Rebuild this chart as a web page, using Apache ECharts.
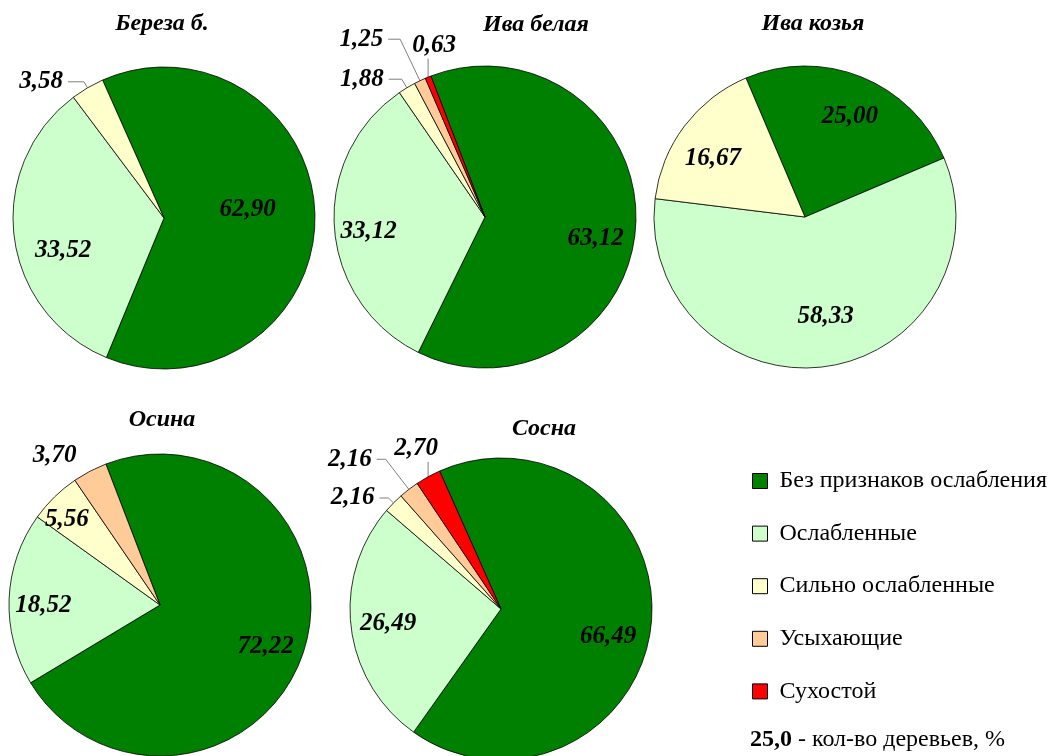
<!DOCTYPE html>
<html>
<head>
<meta charset="utf-8">
<script src="https://cdn.jsdelivr.net/npm/echarts@6/dist/echarts.min.js"></script>
<style>
  html, body { margin: 0; padding: 0; background: #fff; }
  #chart { width: 1049px; height: 756px; }
</style>
</head>
<body>
<div id="chart"></div>
<script>
// категории состояния деревьев
const categories = ['Без признаков ослабления', 'Ослабленные', 'Сильно ослабленные', 'Усыхающие', 'Сухостой']
const species = ['Береза б.', 'Ива белая', 'Ива козья', 'Осина', 'Сосна']

// доля деревьев, % (0 = категории нет)
const berezaValues = [62.90, 33.52, 3.58, 0, 0]
const ivaBelayaValues = [63.12, 33.12, 1.88, 1.25, 0.63]
const ivaKozyaValues = [25.00, 58.33, 16.67, 0, 0]
const osinaValues = [72.22, 18.52, 5.56, 3.70, 0]
const sosnaValues = [66.49, 26.49, 2.16, 2.16, 2.70]

const allValues = [berezaValues, ivaBelayaValues, ivaKozyaValues, osinaValues, sosnaValues]

// оформление
const colors = ['#008000', '#CCFFCC', '#FFFFCC', '#FFCC99', '#FF0000']
const SERIF = "'Liberation Serif', 'Times New Roman', serif"
const R = 151
const centers = [[164, 218], [485, 217], [805, 217], [160, 605], [501, 609]]
const startAngles = [114, 111, 113, 111, 114]
const titlePos = [[162, 24], [536, 25], [813, 24], [162, 420], [544, 429]]

// выноски мелких секторов: [длина 1-го отрезка, длина 2-го, показывать линию]
const leaders = [
  { 2: [7, 16, true] },
  { 2: [10, 13, true], 3: [46, 12, true], 4: [20, 0, true] },
  {},
  { 3: [18, 0, false] },
  { 2: [7, 9, true], 3: [38, 9, true], 4: [17, 0, true] }
]
// подгонка положения внутренних подписей (как расставил Excel)
const nudges = [
  { 0: [-28, -7], 1: [10, 18] },
  { 0: [-1, 16], 1: [-5, 6] },
  { 0: [3, 3], 1: [5, -11], 2: [-3, 9] },
  { 0: [0, 5], 1: [-5, 5], 2: [-15, -6] },
  { 0: [-4, 16], 1: [-2, 1] }
]
// сдвиг подписи сухостоя вдоль выноски
const redShift = [0, 6, 0, 0, -12]

const fmt = v => v.toFixed(2).replace('.', ',')

const labelFont = {
  fontFamily: SERIF, fontSize: 25, fontWeight: 'bold', fontStyle: 'italic', color: '#000'
}

const series = []
const labelSeries = []

allValues.forEach((values, k) => {
  const items = values
    .map((v, i) => ({ name: categories[i], value: v, idx: i }))
    .filter(d => d.value > 0)

  // сами секторы
  series.push({
    type: 'pie',
    center: centers[k],
    radius: R,
    startAngle: startAngles[k],
    clockwise: true,
    silent: true,
    animation: false,
    label: { show: false },
    labelLine: { show: false },
    itemStyle: { borderColor: '#000', borderWidth: 0.8 },
    data: items.map(d => ({ name: d.name, value: d.value, itemStyle: { color: colors[d.idx] } }))
  })

  // прозрачное кольцо только для подписей
  labelSeries.push({
    type: 'pie',
    center: centers[k],
    radius: [R * 0.44, R],
    startAngle: startAngles[k],
    clockwise: true,
    silent: true,
    animation: false,
    avoidLabelOverlap: false,
    itemStyle: { color: 'rgba(0,0,0,0)', borderWidth: 0 },
    label: Object.assign({ show: true, position: 'inside', formatter: p => fmt(p.value) }, labelFont),
    labelLine: { show: false },
    data: items.map(d => {
      const item = { name: d.name + ' ', value: d.value }
      const ld = leaders[k][d.idx]
      if (ld) {
        item.label = { position: 'outside' }
        item.labelLine = {
          show: ld[2], length: ld[0], length2: ld[1],
          lineStyle: { color: '#808080', width: 1 }
        }
      } else if (nudges[k][d.idx]) {
        item.label = { offset: nudges[k][d.idx] }
      }
      return item
    }),
    // подпись сухостоя — над сектором, с вертикальной выноской
    labelLayout: params => {
      const d = items[params.dataIndex]
      const p = params.labelLinePoints
      if (!d || d.idx !== 4 || !p) return {}
      const x = p[0][0]
      const yTop = p[1][1]
      return {
        x: x + redShift[k],
        y: yTop - 1,
        align: 'center',
        verticalAlign: 'bottom',
        labelLinePoints: [p[0], [x, yTop], [x, yTop]]
      }
    }
  })
})

const chart = echarts.init(document.getElementById('chart'), null, { renderer: 'canvas' })

chart.setOption({
  backgroundColor: '#fff',
  animation: false,
  legend: {
    orient: 'vertical',
    left: 747,
    top: 464,
    icon: 'rect',
    itemWidth: 15,
    itemHeight: 15,
    itemGap: 28.6,
    selectedMode: false,
    data: categories,
    itemStyle: { borderColor: '#000', borderWidth: 1 },
    textStyle: { fontFamily: SERIF, fontSize: 24, color: '#000', padding: [0, 0, 0, 7] }
  },
  graphic: species.map((s, k) => ({
    type: 'text',
    x: titlePos[k][0],
    y: titlePos[k][1],
    silent: true,
    style: {
      text: s,
      align: 'center',
      verticalAlign: 'middle',
      font: 'italic bold 24px ' + SERIF,
      fill: '#000'
    }
  })).concat([{
    type: 'text',
    x: 750,
    y: 740,
    silent: true,
    style: {
      text: '{b|25,0} - кол-во деревьев, %',
      verticalAlign: 'middle',
      font: '24px ' + SERIF,
      fill: '#000',
      rich: { b: { fontWeight: 'bold', fontFamily: SERIF, fontSize: 24 } }
    }
  }]),
  series: series.concat(labelSeries)
})
</script>
</body>
</html>
